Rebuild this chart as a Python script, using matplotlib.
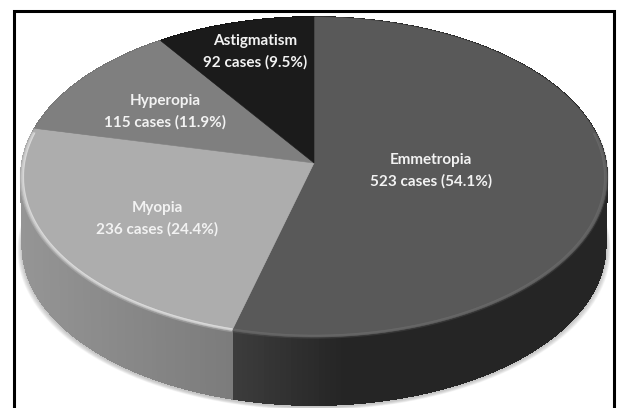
import numpy as np
import matplotlib
matplotlib.use('Agg')
import matplotlib.pyplot as plt
from matplotlib.collections import PolyCollection
from matplotlib.colors import to_rgb
from matplotlib.path import Path
from matplotlib.transforms import Transform

names = ['Emmetropia', 'Myopia', 'Hyperopia', 'Astigmatism']
cases = [523, 236, 115, 92]
percents = ['54.1%', '24.4%', '11.9%', '9.5%']
top_colors = ['#595959', '#adadad', '#7f7f7f', '#1b1b1b']
side_dark = ['#252525', '#7b7b7b', '#6a6a6a', '#111111']
side_light = ['#3c3c3c', '#959595', '#7a7a7a', '#1b1b1b']
rim_colors = ['#6a6a6a', '#e4e4e4', '#a0a0a0', '#333333']
label_xy = [(431, 171), (157, 219), (165, 112), (255, 52)]

# pie centre and size on the page, in pixels
CX, CY = 314, 163
A, B, K = 292, 158.8, 0.0875
DEPTH = 69
# where the wall starts to lighten towards the left, and over how many pixels
fade_start = [340, 234, 234, 234]
fade_span = [106, 213, 213, 213]


def project(u, v, drop=0.0):
    w = 1 + K * v
    return CX + A * u / w, CY - B * v / w + drop


class Tilt(Transform):
    """Lays the flat unit-circle pie down in perspective."""
    input_dims = 2
    output_dims = 2

    def transform_non_affine(self, values):
        values = np.asarray(values)
        x, y = project(values[:, 0], values[:, 1])
        return np.column_stack([x, y])

    def transform_path_non_affine(self, path):
        # flatten at a big scale, the curves are only radius 1 here
        poly = Path(path.vertices * 1000, path.codes).to_polygons(closed_only=False)[0] / 1000
        return Path(self.transform_non_affine(poly))


fig = plt.figure(figsize=(6.17, 4.08), dpi=100, facecolor='white')
ax = fig.add_axes([0, 0, 1, 1])

wedges, _ = ax.pie(cases, colors=top_colors, startangle=90, counterclock=False,
                   wedgeprops={'linewidth': 0.4, 'zorder': 5})
ax.set_aspect('auto')
ax.set_xlim(0, 617)
ax.set_ylim(408, 0)
ax.axis('off')

tilt = Tilt()
for w, c in zip(wedges, top_colors):
    w.set_transform(tilt + ax.transData)
    w.set_edgecolor(c)

# soft shadow under the disc
t = np.radians(np.arange(0, 361, 2))
for i in range(10):
    sx, sy = project(np.cos(t), np.sin(t), DEPTH + 1 - i * 0.3)
    ax.fill(CX + (sx - CX) * (1.012 - i * 0.0015), sy + 3, color='#808080', alpha=0.05, lw=0, zorder=1)

# side wall, shaded strip by strip along each slice
for w, dark, light, start, span in zip(wedges, side_dark, side_light, fade_start, fade_span):
    th = np.radians(np.arange(w.theta1, w.theta2 + 1.0, 1.0))
    th = np.append(th[th < np.radians(w.theta2)], np.radians(w.theta2))
    u, v = np.cos(th), np.sin(th)
    x0, y0 = project(u, v)
    x1, y1 = project(u * 0.995, v * 0.995, DEPTH)
    quads = [[(x0[i], y0[i]), (x0[i + 1], y0[i + 1]), (x1[i + 1], y1[i + 1]), (x1[i], y1[i])]
             for i in range(len(th) - 1)]
    mix = np.clip((start - x0[:-1]) / span, 0, 1)
    d = np.array(to_rgb(dark))
    l = np.array(to_rgb(light))
    shades = [d + (l - d) * m for m in mix]
    ax.add_collection(PolyCollection(quads, facecolors=shades, edgecolors=shades, linewidths=0.6,
                                     antialiaseds=False, zorder=3))

# bevel highlight along the front rim
for w, rim in zip(wedges, rim_colors):
    th = np.radians(np.arange(w.theta1, w.theta2 + 0.5, 0.5))
    th = th[np.sin(th) < 0.2]
    if len(th) == 0:
        continue
    for scale, lw, alpha in [(0.998, 3.0, 0.25), (0.994, 1.6, 0.45), (0.991, 0.8, 0.6)]:
        x, y = project(np.cos(th) * scale, np.sin(th) * scale)
        ax.plot(x, y, color=rim, lw=lw, alpha=alpha, zorder=6, solid_capstyle='butt')

for name, n, pct, (lx, ly) in zip(names, cases, percents, label_xy):
    ax.text(lx, ly, f'{name}\n{n} cases ({pct})', color='#f2f2f2', fontsize=11, fontweight='bold',
            family='Lato', ha='center', va='center', linespacing=1.65, zorder=8)

# picture frame: left, top and right only, the bottom is cut off
ax.plot([14, 14, 613.5, 613.5], [408, 10.5, 10.5, 408], color='black', lw=2.2, zorder=9,
        solid_joinstyle='miter')

fig.savefig('out.png', dpi=100)
